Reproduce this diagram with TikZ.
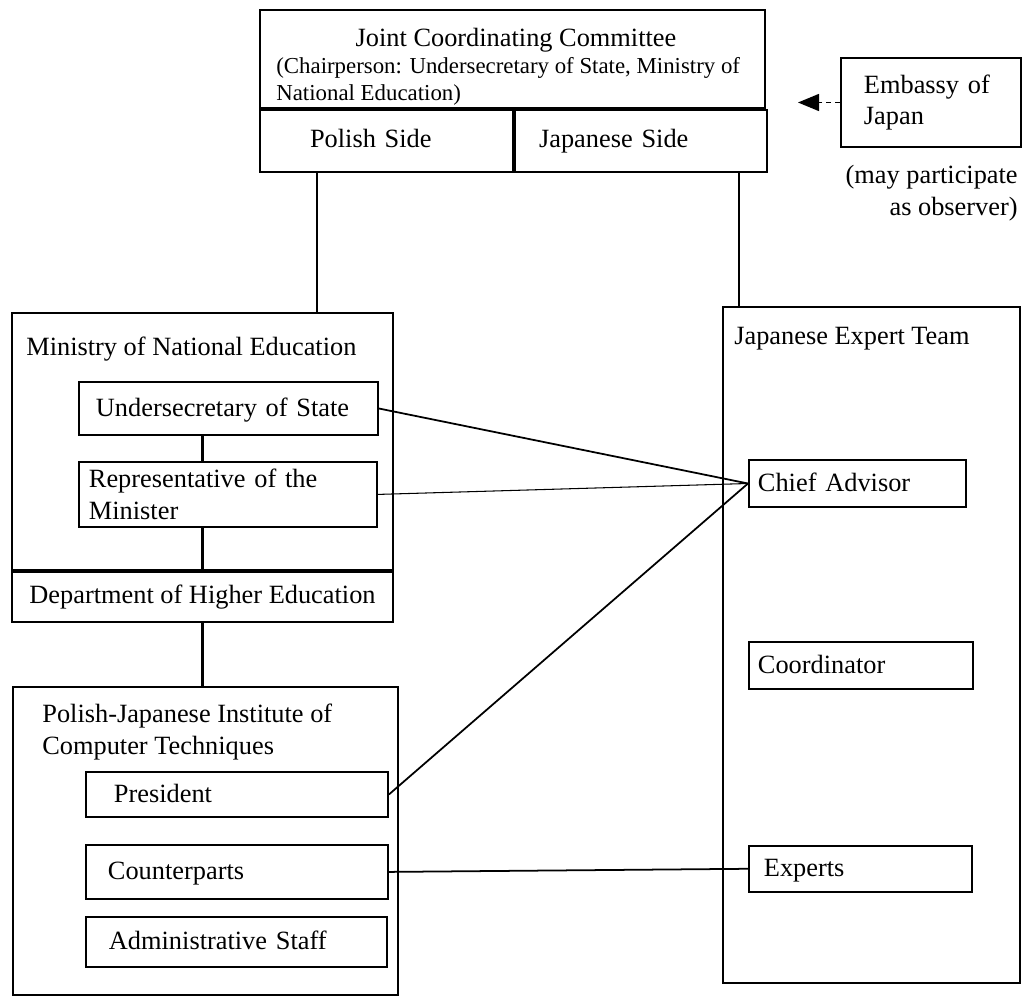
\documentclass[tikz,border=0pt]{standalone}
\usepackage{fontspec}
\setmainfont{Liberation Serif}
\usetikzlibrary{arrows.meta,
                positioning}
\newcommand{\txtmain}{\fontsize{15}{18}\selectfont}
\newcommand{\txtsmall}{\fontsize{13}{15.5}\selectfont}
\tikzstyle{cell} = [draw, line width=1.2pt, inner sep=0pt, text depth=3.5pt]
\tikzstyle{inbox} = [draw, line width=1.1pt, align=left, anchor=west, inner ysep=0pt, text depth=1.5pt]
\tikzstyle{title} = [inner sep=0pt, align=left]
\tikzstyle{link} = [line width=1.6pt]
\tikzstyle{cross} = [line width=1pt]
\tikzstyle{obs} = [line width=0.8pt, dash pattern=on 3pt off 2pt, -{Triangle[length=0.42cm,width=0.34cm]}]

\begin{document}
\begin{tikzpicture}[x=0.02cm, y=-0.02cm, font=\txtmain]
    \useasboundingbox (0,0) rectangle (1022,997);

    % committee
    \node[cell, minimum width=10.1cm, minimum height=1.96cm] (jcc) at (512.5,59) {};
    \node[title] (jcctitle) at (516,40) {Joint Coordinating Committee};
    \node[title, font=\txtsmall, anchor=north west] (chair) at (276,57) {(Chairperson: Undersecretary of State, Ministry of\\National Education)};
    \node[cell, minimum height=1.24cm, align=left, text width=3.06cm, inner xsep=1cm, below=0pt of jcc.south west, anchor=north west] (polish) {Polish Side};
    \node[cell, minimum height=1.24cm, align=left, text width=4.08cm, inner xsep=0.48cm, right=0pt of polish] (japanese) {Japanese Side};

    \node[inbox, text depth=, text width=2.68cm, inner xsep=0.46cm, minimum height=1.78cm] (embassy) at (840,102.5) {Embassy of\\Japan};
    \node[title, align=right, anchor=north east] (observer) at (1018,165) {(may participate\\as observer)};
    \coordinate (tip) at (798,102.5);

    % polish side
    \node[cell, minimum width=7.62cm, minimum height=5.14cm] (ministry) at (202.5,441.5) {};
    \node[title, anchor=west] (ministrytitle) at (26,349) {Ministry of National Education};
    \node[cell, minimum width=7.62cm, minimum height=1cm, below=0pt of ministry] (dept) {Department of Higher Education};
    \node[inbox, text width=5.3cm, inner xsep=0.34cm, minimum height=1.06cm] (under) at (78,408.5) {Undersecretary of State};
    \node[inbox, text depth=, text width=5.56cm, inner xsep=0.2cm, minimum height=1.3cm, below=0.5cm of under.south west, anchor=north west] (rep) {Representative of the\\Minister};

    \node[cell, minimum width=7.7cm, minimum height=6.16cm] (inst) at (205.5,841) {};
    \node[title, anchor=north west] (insttitle) at (42,704) {Polish-Japanese Institute of\\Computer Techniques};
    \node[inbox, text width=4.92cm, inner xsep=0.56cm, minimum height=0.9cm] (pres) at (85,794.5) {President};
    \node[inbox, text width=5.16cm, inner xsep=0.44cm, minimum height=1.08cm, below=0.52cm of pres.south west, anchor=north west] (counter) {Counterparts};
    \node[inbox, text width=5.1cm, inner xsep=0.46cm, minimum height=1cm, below=0.32cm of counter.south west, anchor=north west] (admin) {Administrative Staff};

    % japanese side
    \node[cell, minimum width=5.94cm, minimum height=13.52cm] (jet) at (871.5,645) {};
    \node[title, anchor=west] (jettitle) at (734,339) {Japanese Expert Team};
    \node[inbox, text width=3.98cm, inner xsep=0.18cm, minimum height=0.94cm] (chief) at (748,483.5) {Chief Advisor};
    \node[inbox, text width=4.12cm, inner xsep=0.18cm, minimum height=0.94cm, below=2.66cm of chief.south west, anchor=north west] (coord) {Coordinator};
    \node[inbox, text width=3.86cm, inner xsep=0.3cm, minimum height=0.92cm, below=3.1cm of coord.south west, anchor=north west] (experts) {Experts};

    % connectors
    \coordinate (pl) at ([xshift=-1.39cm]polish.south);
    \coordinate (jp) at ([xshift=0.34cm]jet.north west);
    \draw [link] (pl) -- (pl |- ministry.north);
    \draw [link] (jp |- japanese.south) -- (jp);
    \draw [link] (under.south -| dept.north) -- (rep.north -| dept.north);
    \draw [link] (rep.south -| dept.north) -- (dept.north);
    \draw [link] (dept.south) -- (dept.south |- inst.north);
    \draw [obs] (embassy.west) -- (tip);

    \draw [cross] (under.east) -- (chief.west);
    \draw [line width=0.6pt] (rep.east) -- (chief.west);
    \draw [cross] (pres.east) -- (chief.west);
    \draw [cross] (counter.east) -- (experts.west);
\end{tikzpicture}
\end{document}
